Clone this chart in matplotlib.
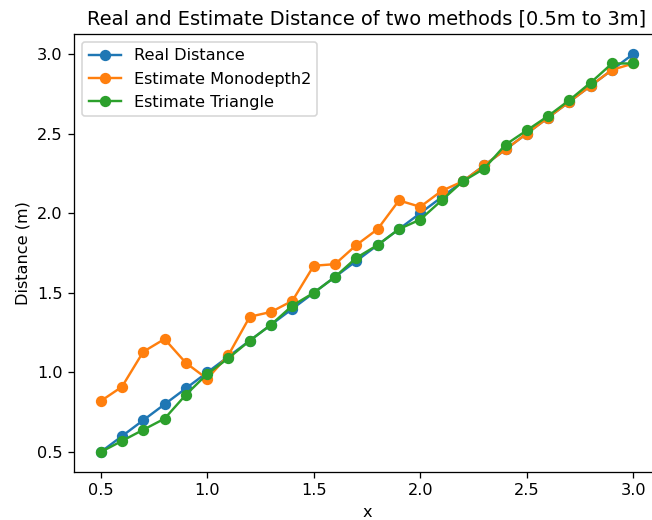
import matplotlib
matplotlib.use("Agg")
import matplotlib.pyplot as plt

x = [0.5, 0.6, 0.7, 0.8, 0.9, 1.0, 1.1, 1.2, 1.3, 1.4, 1.5, 1.6, 1.7, 1.8, 1.9,
     2.0, 2.1, 2.2, 2.3, 2.4, 2.5, 2.6, 2.7, 2.8, 2.9, 3.0]
real = [0.5, 0.6, 0.7, 0.8, 0.9, 1.0, 1.1, 1.2, 1.3, 1.4, 1.5, 1.6, 1.7, 1.8, 1.9,
        2.0, 2.1, 2.2, 2.3, 2.4, 2.5, 2.6, 2.7, 2.8, 2.9, 3.0]
monodepth2 = [0.82, 0.91, 1.13, 1.21, 1.06, 0.96, 1.11, 1.35, 1.38, 1.45, 1.67, 1.68,
              1.80, 1.90, 2.08, 2.04, 2.14, 2.20, 2.30, 2.40, 2.50, 2.60, 2.70, 2.80,
              2.90, 2.94]
triangle = [0.50, 0.57, 0.64, 0.71, 0.86, 0.99, 1.09, 1.20, 1.30, 1.42, 1.50, 1.60,
            1.72, 1.80, 1.90, 1.96, 2.08, 2.20, 2.28, 2.43, 2.52, 2.61, 2.71, 2.82,
            2.94, 2.94]

W, H, DPI = 652, 520, 116
fig = plt.figure(figsize=(W / DPI, H / DPI), dpi=DPI)
ax = fig.add_axes([74 / W, (H - 472) / H, (660 - 74) / W, (472 - 34) / H])
ax.plot(x, real, marker='o', label='Real Distance')
ax.plot(x, monodepth2, marker='o', label='Estimate Monodepth2')
ax.plot(x, triangle, marker='o', label='Estimate Triangle')
ax.set_title('Real and Estimate Distance of two methods [0.5m to 3m]')
ax.set_xlabel('x')
ax.set_ylabel('Distance (m)')
ax.legend(loc='upper left')
fig.savefig('out.png', dpi=DPI)
